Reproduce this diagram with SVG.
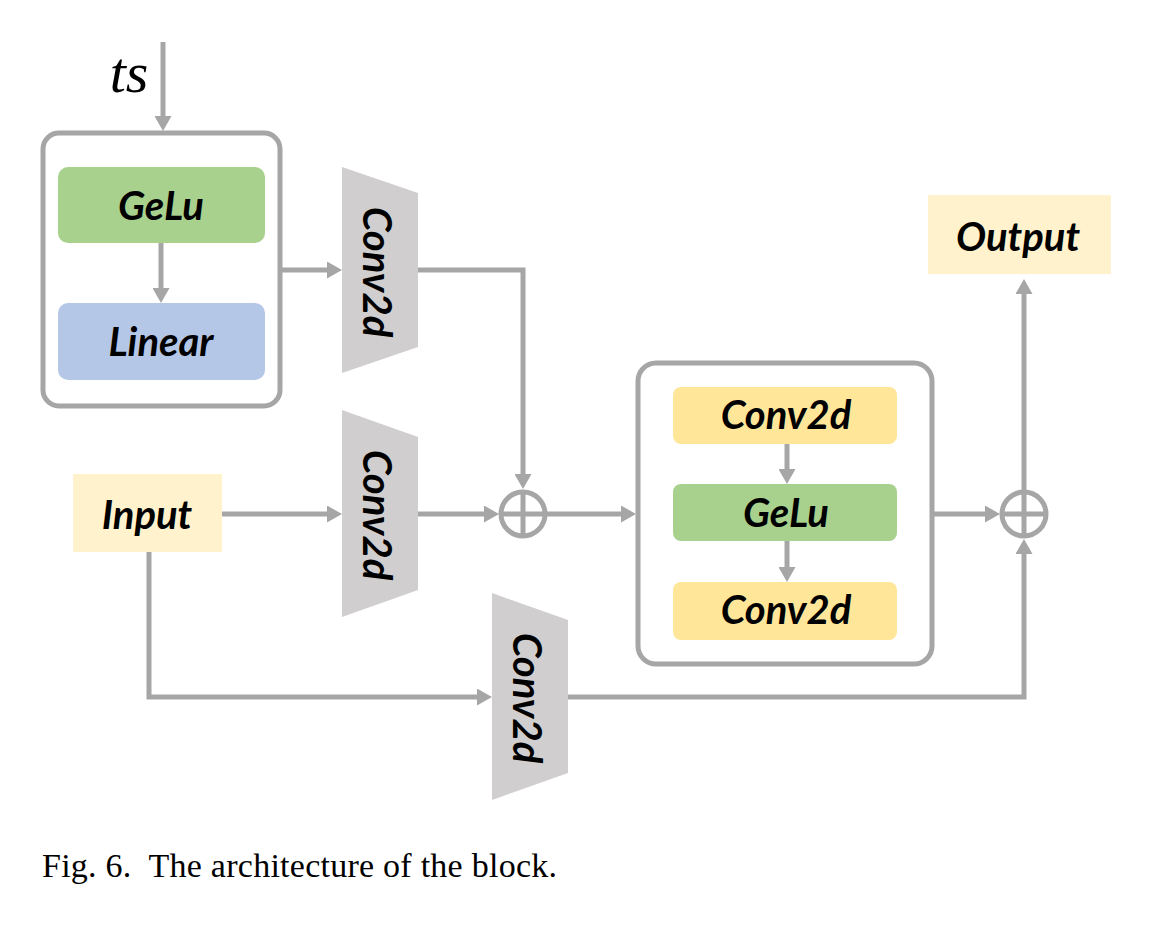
<svg xmlns="http://www.w3.org/2000/svg" width="1155" height="927" viewBox="0 0 1155 927">
<defs>
<marker id="arr" markerUnits="userSpaceOnUse" markerWidth="15" markerHeight="17" refX="4" refY="8.5" orient="auto">
<path d="M0,0 L15,8.5 L0,17 z" fill="#a6a6a6"/>
</marker>
<style>
.c{fill:none;stroke:#a6a6a6;stroke-width:5}
.frame{fill:#fff;stroke:#a6a6a6;stroke-width:5}
.lbl{font-family:Lato,"Liberation Sans",sans-serif;font-weight:bold;font-style:italic;font-size:40px;fill:#000;text-anchor:middle;dominant-baseline:central}
.trap{fill:#d0cece}
.green{fill:#a9d18e}
.blue{fill:#b4c7e7}
.yel{fill:#ffe699}
.pale{fill:#fff2cc}
</style>
</defs>
<rect width="1155" height="927" fill="#fff"/>

<g id="ts-block">
<rect class="frame" x="43" y="133" width="237" height="273" rx="16"/>
</g>
<g id="gelu1">
<rect class="green" x="58" y="167" width="207" height="76" rx="10"/>
<text class="lbl" x="161" y="205" font-size="41">GeLu</text>
</g>
<g id="linear">
<rect class="blue" x="58" y="303" width="207" height="77" rx="10"/>
<text class="lbl" x="161" y="341" font-size="42">Linear</text>
</g>
<g id="ts-label">
<text x="129" y="92" font-family="Liberation Serif,serif" font-style="italic" font-size="58" text-anchor="middle">ts</text>
</g>

<g id="conv-a">
<polygon class="trap" points="342,167 418,193 418,347 342,373"/>
<text class="lbl" transform="translate(378,272) rotate(90)">Conv2d</text>
</g>
<g id="conv-b">
<polygon class="trap" points="342,410 418,437 418,590 342,617"/>
<text class="lbl" transform="translate(378,515) rotate(90)">Conv2d</text>
</g>
<g id="conv-c">
<polygon class="trap" points="492,593 568,620 568,773 492,800"/>
<text class="lbl" transform="translate(528,698) rotate(90)">Conv2d</text>
</g>

<g id="input">
<rect class="pale" x="73" y="474" width="149" height="78"/>
<text class="lbl" x="147" y="514" font-size="45">Input</text>
</g>
<g id="output">
<rect class="pale" x="928" y="195" width="183" height="79"/>
<text class="lbl" x="1018" y="236" font-size="43">Output</text>
</g>

<g id="res-block">
<rect class="frame" x="638" y="363" width="294" height="301" rx="18"/>
</g>
<g id="conv-in1">
<rect class="yel" x="673" y="387" width="224" height="57" rx="8"/>
<text class="lbl" x="786" y="414">Conv2d</text>
</g>
<g id="gelu2">
<rect class="green" x="673" y="484" width="224" height="57" rx="8"/>
<text class="lbl" x="786" y="512" font-size="41">GeLu</text>
</g>
<g id="conv-in2">
<rect class="yel" x="673" y="582" width="224" height="58" rx="8"/>
<text class="lbl" x="786" y="609">Conv2d</text>
</g>

<g id="connectors">
<line class="c" x1="163" y1="42" x2="163" y2="120" marker-end="url(#arr)"/>
<line class="c" x1="161" y1="243" x2="161" y2="292" marker-end="url(#arr)"/>
<line class="c" x1="282" y1="270" x2="331" y2="270" marker-end="url(#arr)"/>
<path class="c" d="M418,270 H523 V478" marker-end="url(#arr)"/>
<line class="c" x1="222" y1="514" x2="331" y2="514" marker-end="url(#arr)"/>
<line class="c" x1="418" y1="514" x2="488" y2="514" marker-end="url(#arr)"/>
<line class="c" x1="547" y1="514" x2="625" y2="514" marker-end="url(#arr)"/>
<line class="c" x1="787" y1="444" x2="787" y2="473" marker-end="url(#arr)"/>
<line class="c" x1="787" y1="541" x2="787" y2="571" marker-end="url(#arr)"/>
<line class="c" x1="932" y1="514" x2="989" y2="514" marker-end="url(#arr)"/>
<line class="c" x1="1024" y1="492" x2="1024" y2="290" marker-end="url(#arr)"/>
<path class="c" d="M149,552 V697 H481" marker-end="url(#arr)"/>
<path class="c" d="M568,697 H1024 V550" marker-end="url(#arr)"/>
</g>

<g id="sum1">
<circle cx="523" cy="514" r="22" fill="#fff" stroke="#a6a6a6" stroke-width="5"/>
<path class="c" d="M501,514 H545 M523,492 V536"/>
</g>
<g id="sum2">
<circle cx="1024" cy="514" r="22" fill="#fff" stroke="#a6a6a6" stroke-width="5"/>
<path class="c" d="M1002,514 H1046 M1024,492 V536"/>
</g>

<g id="caption">
<text x="42" y="877" font-family="Liberation Serif,serif" font-size="34" textLength="515" lengthAdjust="spacing" xml:space="preserve">Fig. 6.  The architecture of the block.</text>
</g>
</svg>
